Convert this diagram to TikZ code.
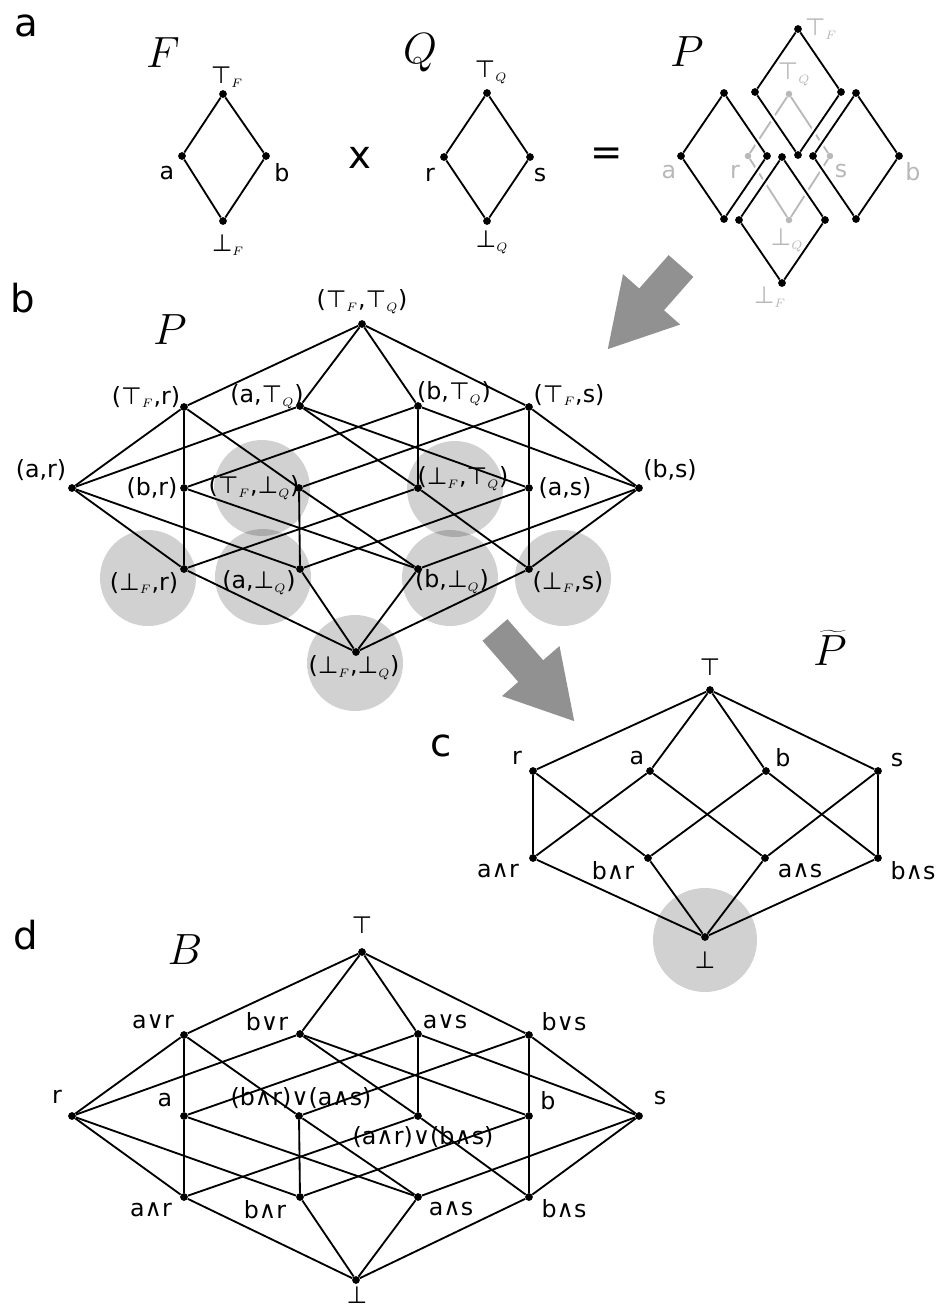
\documentclass[tikz,border=0pt]{standalone}
\usepackage{fontspec}
\setmainfont{DejaVu Sans}
\usetikzlibrary{arrows.meta}

\definecolor{pale}{gray}{0.72}
\definecolor{arrowgray}{gray}{0.57}
\newcommand{\tpF}{⊤$_{\scriptscriptstyle F}$}
\newcommand{\tpQ}{⊤$_{\scriptscriptstyle Q}$}
\newcommand{\btF}{⊥$_{\scriptscriptstyle F}$}
\newcommand{\btQ}{⊥$_{\scriptscriptstyle Q}$}

\begin{document}
\begin{tikzpicture}[x=0.02cm,y=-0.02cm,
  dot/.style={circle,fill=black,inner sep=0pt,minimum size=0.155cm},
  pdot/.style={circle,fill=pale,inner sep=0pt,minimum size=0.13cm},
  lbl/.style={inner sep=0pt,font=\fontsize{13.5}{15}\selectfont},
  plbl/.style={lbl,text=pale},
  panel/.style={inner sep=0pt,font=\fontsize{22}{24}\selectfont},
  setname/.style={inner sep=0pt,font=\fontsize{23}{26}\selectfont},
  edge/.style={line width=1.05pt},
  haloedge/.style={edge,preaction={draw,white,line width=3.8pt}},
  blob/.style={circle,fill=black,fill opacity=0.18,draw=none,inner sep=0pt,minimum size=1.92cm},
  bigarrow/.style={arrowgray,line width=0.66cm,-{Triangle[length=1.35cm,width=1.42cm]}}]
\useasboundingbox (0,0) rectangle (939,1309);

% panel letters and set names
\node[panel] (la) at (26,26) {a};
\node[panel] (lb) at (23,298) {b};
\node[panel] (lc) at (441,746) {c};
\node[panel] (ld) at (26,935) {d};
\node[setname] (nF) at (163,53) {$F$};
\node[setname] (nQ) at (420,53) {$Q$};
\node[setname] (nP) at (687,52) {$P$};
\node[setname] (nPb) at (170,330) {$P$};
\node[setname] (nPt) at (830,648) {$\widetilde{P}$};
\node[setname] (nB) at (185,950) {$B$};

% a: F x Q = P
\node[dot] (fT) at (223,94) {};
\node[dot] (fa) at (182,156) {};
\node[dot] (fb) at (266,156) {};
\node[dot] (fB) at (223,221) {};
\draw[edge] (fT) -- (fa) -- (fB) -- (fb) -- (fT);
\node[lbl] (lfT) at (227,77) {\tpF};
\node[lbl] (lfa) at (167,173) {a};
\node[lbl] (lfb) at (282,173) {b};
\node[lbl] (lfB) at (228,245) {\btF};
\node[panel] (times) at (360,158) {x};

\node[dot] (qT) at (487,93) {};
\node[dot] (qr) at (444,157) {};
\node[dot] (qs) at (530,157) {};
\node[dot] (qB) at (487,221) {};
\draw[edge] (qT) -- (qr) -- (qB) -- (qs) -- (qT);
\node[lbl] (lqT) at (491,72) {\tpQ};
\node[lbl] (lqr) at (430,175) {r};
\node[lbl] (lqs) at (540,175) {s};
\node[lbl] (lqB) at (492,242) {\btQ};
\node[panel] (equals) at (607,157) {=};

% Q in grey behind the four copies of F
\node[pdot] (g1) at (789,94) {};
\node[pdot] (g2) at (748,156) {};
\node[pdot] (g3) at (830,156) {};
\node[pdot] (g4) at (789,220) {};
\draw[edge,pale] (g1) -- (g2) -- (g4) -- (g3) -- (g1);
\foreach \c/\x/\y in {T/798/92, L/724/156, R/856/156, B/782/220} {
  \node[dot] (p\c1) at (\x,\y-63) {};
  \node[dot] (p\c2) at (\x-43,\y) {};
  \node[dot] (p\c3) at (\x+43,\y) {};
  \node[dot] (p\c4) at (\x,\y+63) {};
  \draw[haloedge] (p\c1) -- (p\c2) -- (p\c4) -- (p\c3) -- (p\c1);
}
\node[plbl] (plT) at (821,29) {\tpF};
\node[plbl] (plQ) at (794,74) {\tpQ};
\node[plbl] (pla) at (669,172) {a};
\node[plbl] (plr) at (735,172) {r};
\node[plbl] (pls) at (841,171) {s};
\node[plbl] (plb) at (913,172) {b};
\node[plbl] (plq) at (787,240) {\btQ};
\node[plbl] (plB) at (770,297) {\btF};

% arrows
\coordinate (arr1a) at (681,266);
\coordinate (arr1b) at (607,350);
\draw[bigarrow] (arr1a) -- (arr1b);
\coordinate (arr2a) at (495,630);
\coordinate (arr2b) at (575,722);
\draw[bigarrow] (arr2a) -- (arr2b);

% b: shaded elements
\node[blob] (hBr) at (148,578) {};
\node[blob] (hTB) at (262,488) {};
\node[blob] (haB) at (263,577) {};
\node[blob] (hBT) at (455,489) {};
\node[blob] (hbB) at (450,578) {};
\node[blob] (hBs) at (563,578) {};
\node[blob] (hBB) at (355,663) {};
\node[blob,minimum size=2.08cm] (hcB) at (705,940) {};

% b and d: same shape
\foreach \p/\dy in {b/0,d/628} {
  \foreach \n/\x/\y in {TT/362/324, Tr/184/407, aT/300/406, bT/418/406, Ts/529/407,
      ar/72/488, br/184/488, TB/299/488, BT/418/488, as/529/488, bs/639/488,
      Br/184/569, aB/300/569, bB/418/569, Bs/529/569, BB/356/652}
    \node[dot] (\p\n) at (\x,\y+\dy) {};
  \foreach \u/\v in {TT/Tr, TT/aT, TT/bT, TT/Ts, Tr/ar, Tr/br, Tr/TB, aT/ar, aT/as, aT/BT,
      bT/br, bT/bs, bT/BT, Ts/as, Ts/bs, Ts/TB, ar/Br, ar/aB, br/Br, br/bB, TB/aB, TB/bB,
      BT/Br, BT/Bs, as/Bs, as/aB, bs/Bs, bs/bB, Br/BB, aB/BB, bB/BB, Bs/BB}
    \draw[edge] (\p\u) -- (\p\v);
}
\node[lbl] (lbTT) at (362,302) {(\tpF,\tpQ)};
\node[lbl] (lbTr) at (146,397) {(\tpF,r)};
\node[lbl] (lbaT) at (267,397) {(a,\tpQ)};
\node[lbl] (lbbT) at (454,394) {(b,\tpQ)};
\node[lbl] (lbTs) at (569,395) {(\tpF,s)};
\node[lbl] (lbar) at (41,470) {(a,r)};
\node[lbl] (lbbr) at (152,488) {(b,r)};
\node[lbl] (lbTB) at (254,488) {(\tpF,\btQ)};
\node[lbl] (lbBT) at (463,479) {(\btF,\tpQ)};
\node[lbl] (lbas) at (565,488) {(a,s)};
\node[lbl] (lbbs) at (670,470) {(b,s)};
\node[lbl] (lbBr) at (144,583) {(\btF,r)};
\node[lbl] (lbaB) at (259,583) {(a,\btQ)};
\node[lbl] (lbbB) at (452,582) {(b,\btQ)};
\node[lbl] (lbBs) at (568,582) {(\btF,s)};
\node[lbl] (lbBB) at (354,668) {(\btF,\btQ)};

% c: reduced lattice
\node[dot] (cT) at (710,690) {};
\node[dot] (cr) at (533,771) {};
\node[dot] (ca) at (650,771) {};
\node[dot] (cb) at (766,771) {};
\node[dot] (cs) at (878,771) {};
\node[dot] (car) at (533,858) {};
\node[dot] (cbr) at (648,858) {};
\node[dot] (cas) at (765,858) {};
\node[dot] (cbs) at (878,858) {};
\node[dot] (cB) at (705,937) {};
\foreach \u/\v in {cT/cr, cT/ca, cT/cb, cT/cs, cr/car, cr/cbr, ca/car, ca/cas,
    cb/cbr, cb/cbs, cs/cas, cs/cbs, car/cB, cbr/cB, cas/cB, cbs/cB}
  \draw[edge] (\u) -- (\v);
\node[lbl] (lcT) at (710,667) {⊤};
\node[lbl] (lcr) at (517,758) {r};
\node[lbl] (lca) at (637,758) {a};
\node[lbl] (lcb) at (783,758) {b};
\node[lbl] (lcs) at (897,760) {s};
\node[lbl] (lcar) at (498,871) {a∧r};
\node[lbl] (lcbr) at (613,871) {b∧r};
\node[lbl] (lcas) at (800,871) {a∧s};
\node[lbl] (lcbs) at (913,871) {b∧s};
\node[lbl] (lcB) at (705,960) {⊥};

% d: labels
\node[lbl] (ldTT) at (362,925) {⊤};
\node[lbl] (ldTr) at (153,1022) {a∨r};
\node[lbl] (ldaT) at (267,1022) {b∨r};
\node[lbl] (ldbT) at (445,1022) {a∨s};
\node[lbl] (ldTs) at (564,1022) {b∨s};
\node[lbl] (ldar) at (57,1097) {r};
\node[lbl] (ldbr) at (165,1100) {a};
\node[lbl] (ldTB) at (301,1098) {(b∧r)∨(a∧s)};
\node[lbl] (ldBT) at (423,1137) {(a∧r)∨(b∧s)};
\node[lbl] (ldas) at (548,1101) {b};
\node[lbl] (ldbs) at (660,1098) {s};
\node[lbl] (ldBr) at (151,1210) {a∧r};
\node[lbl] (ldaB) at (265,1210) {b∧r};
\node[lbl] (ldbB) at (451,1209) {a∧s};
\node[lbl] (ldBs) at (564,1209) {b∧s};
\node[lbl] (ldBB) at (357,1295) {⊥};
\end{tikzpicture}
\end{document}
